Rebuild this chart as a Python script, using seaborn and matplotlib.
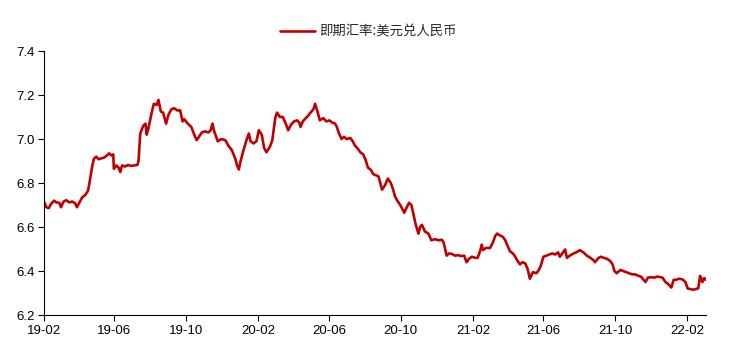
import matplotlib
matplotlib.use("Agg")
import matplotlib.pyplot as plt
import seaborn as sns
import pandas as pd

dates = [
    "2019-02-01", "2019-02-05", "2019-02-09", "2019-02-13", "2019-02-18", "2019-02-22", "2019-02-27",
    "2019-03-02", "2019-03-06", "2019-03-11", "2019-03-16", "2019-03-21", "2019-03-26", "2019-03-29",
    "2019-04-03", "2019-04-07", "2019-04-12", "2019-04-17", "2019-04-20", "2019-04-24", "2019-04-27",
    "2019-05-01", "2019-05-05", "2019-05-09", "2019-05-14", "2019-05-19", "2019-05-23", "2019-05-27",
    "2019-05-30", "2019-05-31", "2019-06-04", "2019-06-08", "2019-06-11", "2019-06-14", "2019-06-19",
    "2019-06-24", "2019-06-29", "2019-07-04", "2019-07-10", "2019-07-12", "2019-07-15", "2019-07-20",
    "2019-07-24", "2019-07-26", "2019-07-29", "2019-08-03", "2019-08-07", "2019-08-12", "2019-08-15",
    "2019-08-19", "2019-08-23", "2019-08-28", "2019-09-01", "2019-09-06", "2019-09-11", "2019-09-16",
    "2019-09-21", "2019-09-25", "2019-09-28", "2019-10-04", "2019-10-10", "2019-10-15", "2019-10-19",
    "2019-10-23", "2019-10-28", "2019-11-02", "2019-11-08", "2019-11-12", "2019-11-15", "2019-11-18",
    "2019-11-24", "2019-11-30", "2019-12-07", "2019-12-12", "2019-12-18", "2019-12-24", "2019-12-27",
    "2019-12-30", "2020-01-02", "2020-01-07", "2020-01-12", "2020-01-16", "2020-01-19", "2020-01-24",
    "2020-01-29", "2020-02-02", "2020-02-07", "2020-02-11", "2020-02-15", "2020-02-21", "2020-02-25",
    "2020-03-01", "2020-03-04", "2020-03-09", "2020-03-14", "2020-03-19", "2020-03-23", "2020-03-28",
    "2020-04-02", "2020-04-07", "2020-04-11", "2020-04-13", "2020-04-17", "2020-04-22", "2020-04-26",
    "2020-04-30", "2020-05-05", "2020-05-08", "2020-05-12", "2020-05-16", "2020-05-22", "2020-05-27",
    "2020-06-01", "2020-06-06", "2020-06-11", "2020-06-14", "2020-06-17", "2020-06-22", "2020-06-26",
    "2020-07-01", "2020-07-07", "2020-07-11", "2020-07-15", "2020-07-20", "2020-07-24", "2020-07-29",
    "2020-08-02", "2020-08-06", "2020-08-11", "2020-08-15", "2020-08-20", "2020-08-24", "2020-08-27",
    "2020-08-30", "2020-09-04", "2020-09-09", "2020-09-14", "2020-09-18", "2020-09-21", "2020-09-25",
    "2020-09-30", "2020-10-03", "2020-10-07", "2020-10-11", "2020-10-15", "2020-10-19", "2020-10-22",
    "2020-10-26", "2020-10-31", "2020-11-03", "2020-11-06", "2020-11-11", "2020-11-17", "2020-11-22",
    "2020-11-28", "2020-12-04", "2020-12-10", "2020-12-13", "2020-12-18", "2020-12-22", "2020-12-27",
    "2021-01-01", "2021-01-07", "2021-01-12", "2021-01-17", "2021-01-21", "2021-01-25", "2021-01-30",
    "2021-02-05", "2021-02-09", "2021-02-13", "2021-02-16", "2021-02-18", "2021-02-23", "2021-03-02",
    "2021-03-07", "2021-03-11", "2021-03-14", "2021-03-19", "2021-03-24", "2021-03-28", "2021-03-31",
    "2021-04-05", "2021-04-10", "2021-04-14", "2021-04-17", "2021-04-22", "2021-04-26", "2021-05-01",
    "2021-05-05", "2021-05-09", "2021-05-14", "2021-05-20", "2021-05-23", "2021-05-27", "2021-06-01",
    "2021-06-06", "2021-06-11", "2021-06-16", "2021-06-21", "2021-06-26", "2021-06-29", "2021-07-03",
    "2021-07-08", "2021-07-11", "2021-07-16", "2021-07-21", "2021-07-27", "2021-08-02", "2021-08-08",
    "2021-08-14", "2021-08-20", "2021-08-25", "2021-08-28", "2021-09-02", "2021-09-07", "2021-09-12",
    "2021-09-18", "2021-09-23", "2021-09-27", "2021-09-30", "2021-10-04", "2021-10-10", "2021-10-15",
    "2021-10-20", "2021-10-25", "2021-10-30", "2021-11-04", "2021-11-10", "2021-11-14", "2021-11-18",
    "2021-11-22", "2021-11-26", "2021-12-02", "2021-12-07", "2021-12-12", "2021-12-17", "2021-12-21",
    "2021-12-26", "2021-12-31", "2022-01-05", "2022-01-09", "2022-01-13", "2022-01-18", "2022-01-24",
    "2022-01-29", "2022-02-02", "2022-02-07", "2022-02-11", "2022-02-16", "2022-02-20", "2022-02-23",
    "2022-02-27", "2022-03-02", "2022-03-05",
]

usdcny = [
    6.715, 6.690, 6.686, 6.705, 6.720, 6.712, 6.710,
    6.690, 6.715, 6.722, 6.712, 6.716, 6.708, 6.690,
    6.715, 6.735, 6.745, 6.765, 6.810, 6.875, 6.910,
    6.920, 6.908, 6.912, 6.915, 6.925, 6.935, 6.925,
    6.930, 6.865, 6.880, 6.870, 6.850, 6.880, 6.875,
    6.882, 6.878, 6.880, 6.882, 6.900, 7.025, 7.060,
    7.070, 7.020, 7.050, 7.115, 7.160, 7.155, 7.178,
    7.125, 7.120, 7.070, 7.110, 7.135, 7.140, 7.130,
    7.130, 7.080, 7.090, 7.070, 7.055, 7.020, 6.995,
    7.010, 7.030, 7.035, 7.030, 7.040, 7.070, 7.035,
    6.990, 7.000, 6.995, 6.970, 6.950, 6.910, 6.880,
    6.862, 6.900, 6.950, 6.995, 7.025, 6.990, 6.980,
    6.990, 7.040, 7.020, 6.960, 6.940, 6.965, 6.995,
    7.095, 7.120, 7.100, 7.100, 7.070, 7.040, 7.065,
    7.080, 7.085, 7.075, 7.055, 7.080, 7.095, 7.105,
    7.120, 7.135, 7.160, 7.125, 7.085, 7.095, 7.080,
    7.085, 7.075, 7.070, 7.055, 7.030, 7.000, 7.010,
    7.000, 7.005, 6.990, 6.970, 6.955, 6.940, 6.930,
    6.905, 6.870, 6.860, 6.840, 6.835, 6.830, 6.800,
    6.770, 6.790, 6.820, 6.800, 6.770, 6.740, 6.720,
    6.700, 6.685, 6.665, 6.690, 6.710, 6.700, 6.665,
    6.615, 6.570, 6.600, 6.610, 6.580, 6.570, 6.540,
    6.545, 6.540, 6.542, 6.530, 6.470, 6.480, 6.478,
    6.470, 6.472, 6.468, 6.470, 6.440, 6.455, 6.465,
    6.460, 6.460, 6.490, 6.520, 6.495, 6.505, 6.505,
    6.530, 6.560, 6.570, 6.562, 6.555, 6.540, 6.520,
    6.490, 6.480, 6.465, 6.450, 6.430, 6.440, 6.435,
    6.410, 6.365, 6.395, 6.390, 6.400, 6.420, 6.465,
    6.470, 6.475, 6.480, 6.475, 6.485, 6.465, 6.480,
    6.498, 6.460, 6.470, 6.478, 6.485, 6.495, 6.485,
    6.470, 6.460, 6.450, 6.440, 6.458, 6.465, 6.460,
    6.455, 6.445, 6.430, 6.400, 6.390, 6.405, 6.400,
    6.395, 6.390, 6.385, 6.385, 6.378, 6.375, 6.362,
    6.350, 6.370, 6.372, 6.370, 6.375, 6.372, 6.370,
    6.350, 6.340, 6.325, 6.360, 6.360, 6.365, 6.362,
    6.350, 6.320, 6.318, 6.315, 6.318, 6.322, 6.378,
    6.350, 6.368, 6.360,
]

tick_months = ["2019-02-01", "2019-06-01", "2019-10-01", "2020-02-01", "2020-06-01",
               "2020-10-01", "2021-02-01", "2021-06-01", "2021-10-01", "2022-02-01"]
tick_labels = ["19-02", "19-06", "19-10", "20-02", "20-06",
               "20-10", "21-02", "21-06", "21-10", "22-02"]
y_ticks = [6.2, 6.4, 6.6, 6.8, 7.0, 7.2, 7.4]
series_name = "即期汇率:美元兑人民币"

df = pd.DataFrame({"date": pd.to_datetime(dates), "value": usdcny})

sns.set_style("ticks")
plt.rcParams["font.family"] = ["Liberation Sans", "Noto Sans CJK SC", "DejaVu Sans"]

fig = plt.figure(figsize=(7.29, 3.52), dpi=100)
ax = fig.add_axes([0.0604, 0.105, 0.908, 0.750])

sns.lineplot(data=df, x="date", y="value", color="#C00000", linewidth=1.9,
             ax=ax, label=series_name)

ax.set_xlim(pd.Timestamp("2019-02-01"), pd.Timestamp("2022-03-05"))
ax.set_ylim(6.2, 7.4)
ax.set_yticks(y_ticks)
ax.set_yticklabels([f"{v:.1f}" for v in y_ticks])
ax.set_xticks(pd.to_datetime(tick_months))
ax.set_xticklabels(tick_labels)
ax.set_xlabel("")
ax.set_ylabel("")

for s in ["top", "right"]:
    ax.spines[s].set_visible(False)
for s in ["left", "bottom"]:
    ax.spines[s].set_color("#000000")
    ax.spines[s].set_linewidth(0.8)
ax.tick_params(axis="both", direction="out", length=4, width=0.8, color="#000000",
               labelsize=9.5, labelcolor="#000000", pad=3)

leg = ax.legend(loc="center", bbox_to_anchor=(0.49, 1.072), frameon=False,
                prop={"family": ["Noto Sans CJK SC"], "size": 9.6},
                handlelength=2.6, handletextpad=0.35, borderaxespad=0)

fig.savefig("out.png", dpi=100)
